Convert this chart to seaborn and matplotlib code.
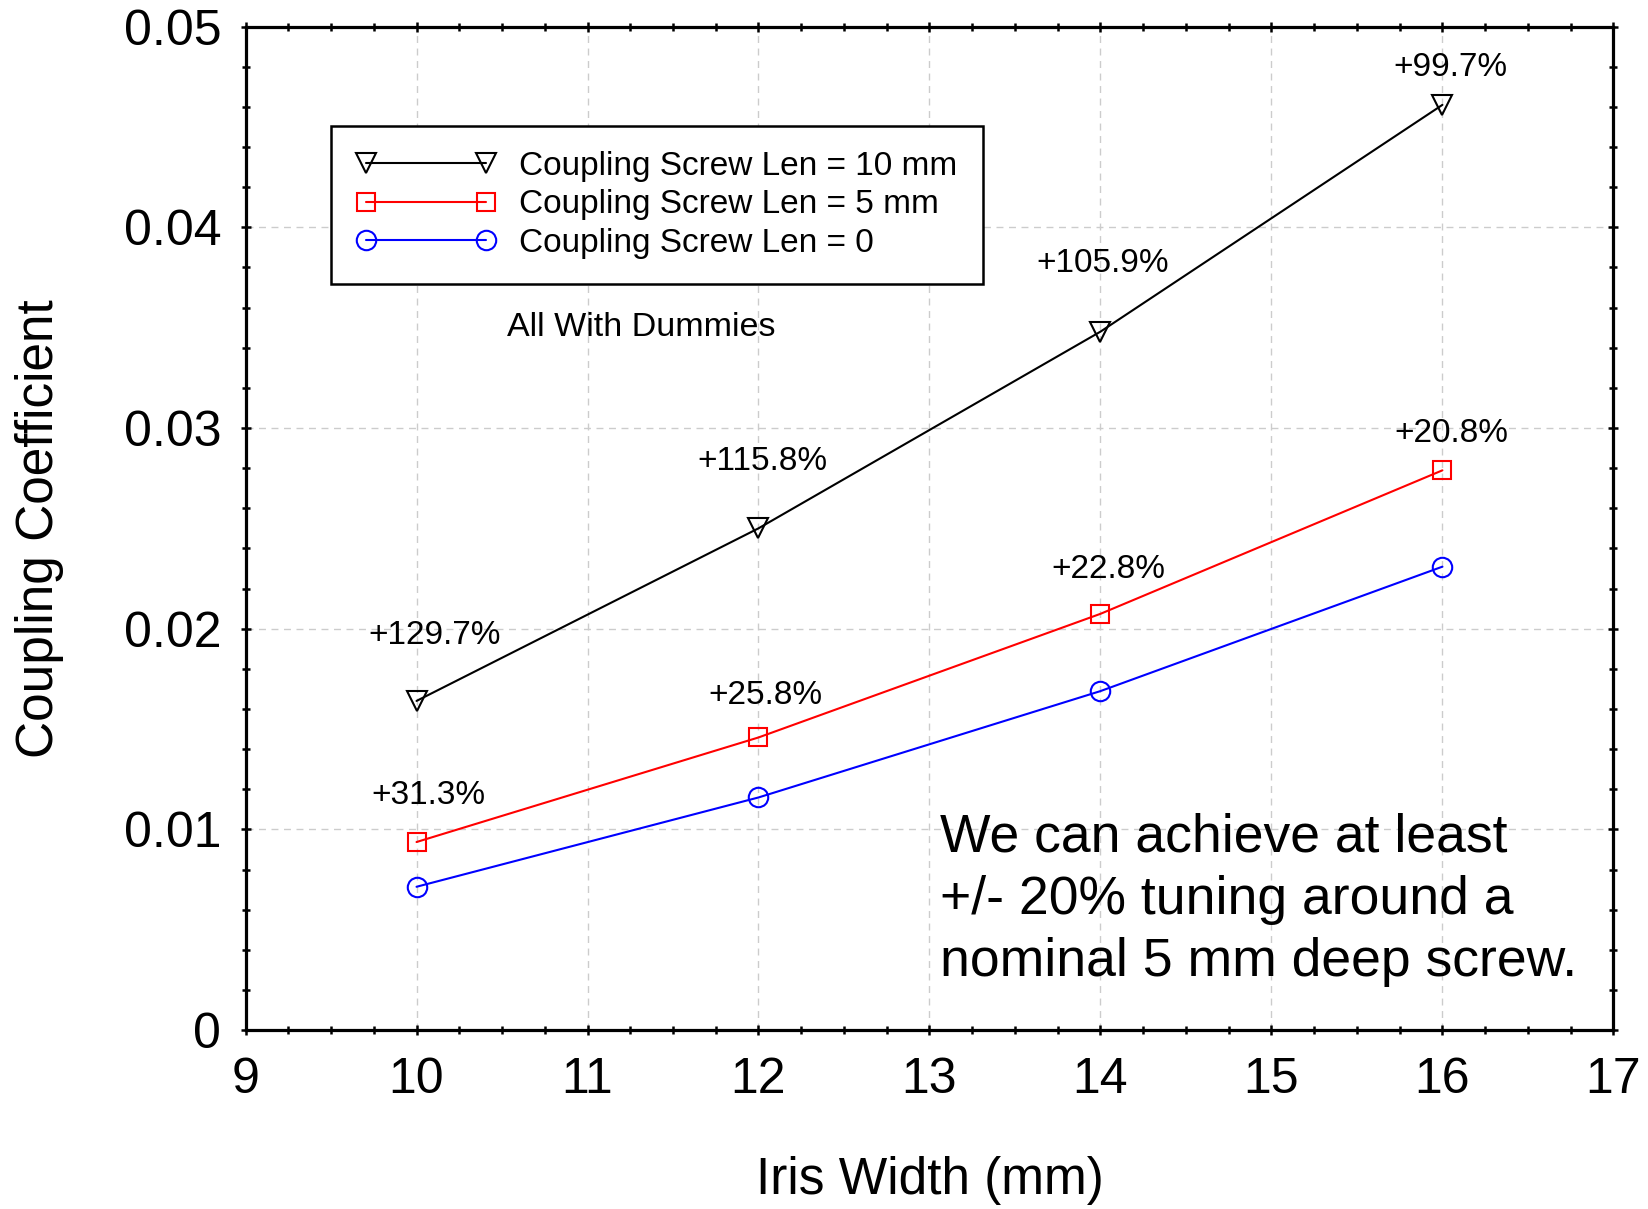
import matplotlib
matplotlib.use("Agg")
import matplotlib.pyplot as plt
from matplotlib.ticker import MultipleLocator, FixedLocator
import seaborn as sns
import pandas as pd

# Iris widths (mm) and coupling coefficients for each screw length
iris_width = [10, 12, 14, 16]
k_screw_10mm = [0.0164, 0.0250, 0.0348, 0.0461]
k_screw_5mm = [0.00937, 0.01458, 0.02074, 0.02789]
k_screw_0 = [0.00714, 0.01159, 0.01689, 0.02309]

series_labels = ["Coupling Screw Len = 10 mm",
                 "Coupling Screw Len = 5 mm",
                 "Coupling Screw Len = 0"]

# Percent increase over the no-screw case
pct_10mm = ["+129.7%", "+115.8%", "+105.9%", "+99.7%"]
pct_5mm = ["+31.3%", "+25.8%", "+22.8%", "+20.8%"]

x_ticks = [9, 10, 11, 12, 13, 14, 15, 16, 17]
y_ticks = [0, 0.01, 0.02, 0.03, 0.04, 0.05]
y_tick_labels = ["0", "0.01", "0.02", "0.03", "0.04", "0.05"]

sns.set_theme(style="white")
plt.rcParams["font.family"] = ["Liberation Sans", "DejaVu Sans"]
plt.rcParams["text.color"] = "black"
plt.rcParams["axes.labelcolor"] = "black"
plt.rcParams["xtick.color"] = "black"
plt.rcParams["ytick.color"] = "black"

fig = plt.figure(figsize=(16.48, 12.09), dpi=100)
ax = fig.add_axes([0.149, 0.148, 0.830, 0.830])

styles = [
    (k_screw_10mm, "black", "v", 15),
    (k_screw_5mm, "#ff0000", "s", 13),
    (k_screw_0, "#0000ff", "o", 14),
]
for (vals, col, mk, ms), lab in zip(styles, series_labels):
    df = pd.DataFrame({"Iris Width (mm)": iris_width, "k": vals})
    sns.lineplot(data=df, x="Iris Width (mm)", y="k", ax=ax, color=col,
                 marker=mk, markersize=ms, markerfacecolor="none",
                 markeredgecolor=col, markeredgewidth=1.5, linewidth=1.5,
                 label=lab, legend=False)

# Percentage annotations (offsets in pixels from each point)
offs_10 = [(18, 65), (4, 67), (2, 68), (8, 37)]
offs_5 = [(12, 47), (7, 42), (8, 44), (9, 37)]
for xs, ys, txt, offs in [(iris_width, k_screw_10mm, pct_10mm, offs_10),
                          (iris_width, k_screw_5mm, pct_5mm, offs_5)]:
    for xv, yv, t, o in zip(xs, ys, txt, offs):
        ax.annotate(t, (xv, yv), xytext=o, textcoords="offset pixels",
                    ha="center", va="center", fontsize=24, color="black")

ax.set_xlim(9, 17)
ax.set_ylim(0, 0.05)
ax.xaxis.set_major_locator(FixedLocator(x_ticks))
ax.yaxis.set_major_locator(FixedLocator(y_ticks))
ax.set_yticklabels(y_tick_labels)
ax.xaxis.set_minor_locator(MultipleLocator(0.25))
ax.yaxis.set_minor_locator(MultipleLocator(0.002))

ax.grid(True, which="major", color="#cccccc", linestyle=(0, (5, 4)), linewidth=1)
ax.tick_params(which="both", direction="inout", top=True, right=True,
               bottom=True, left=True, color="black", width=1.8)
ax.tick_params(which="major", length=7, labelsize=36, pad=14)
ax.tick_params(axis="x", which="major", pad=16)
ax.tick_params(which="minor", length=6)
for sp in ax.spines.values():
    sp.set_color("black")
    sp.set_linewidth(2.3)

ax.set_xlabel("Iris Width (mm)", fontsize=37, labelpad=38)
ax.set_ylabel("Coupling Coefficient", fontsize=37, labelpad=43)

leg = ax.legend(loc="upper left", bbox_to_anchor=(0.0625, 0.9008),
                fontsize=24, numpoints=2, handlelength=4.2, handletextpad=0.7,
                labelspacing=0.22, borderpad=0.75, fancybox=False,
                framealpha=1, edgecolor="black", borderaxespad=0)
leg.get_frame().set_linewidth(1.8)

ax.text(0.289, 0.7, "All With Dummies", transform=ax.transAxes,
        fontsize=24.5, ha="center", va="center")
ax.text(0.508, 0.13, "We can achieve at least\n+/- 20% tuning around a\nnominal 5 mm deep screw.",
        transform=ax.transAxes, fontsize=38.5, ha="left", va="center",
        linespacing=1.31)

fig.savefig("out.png", dpi=100, facecolor="white")
